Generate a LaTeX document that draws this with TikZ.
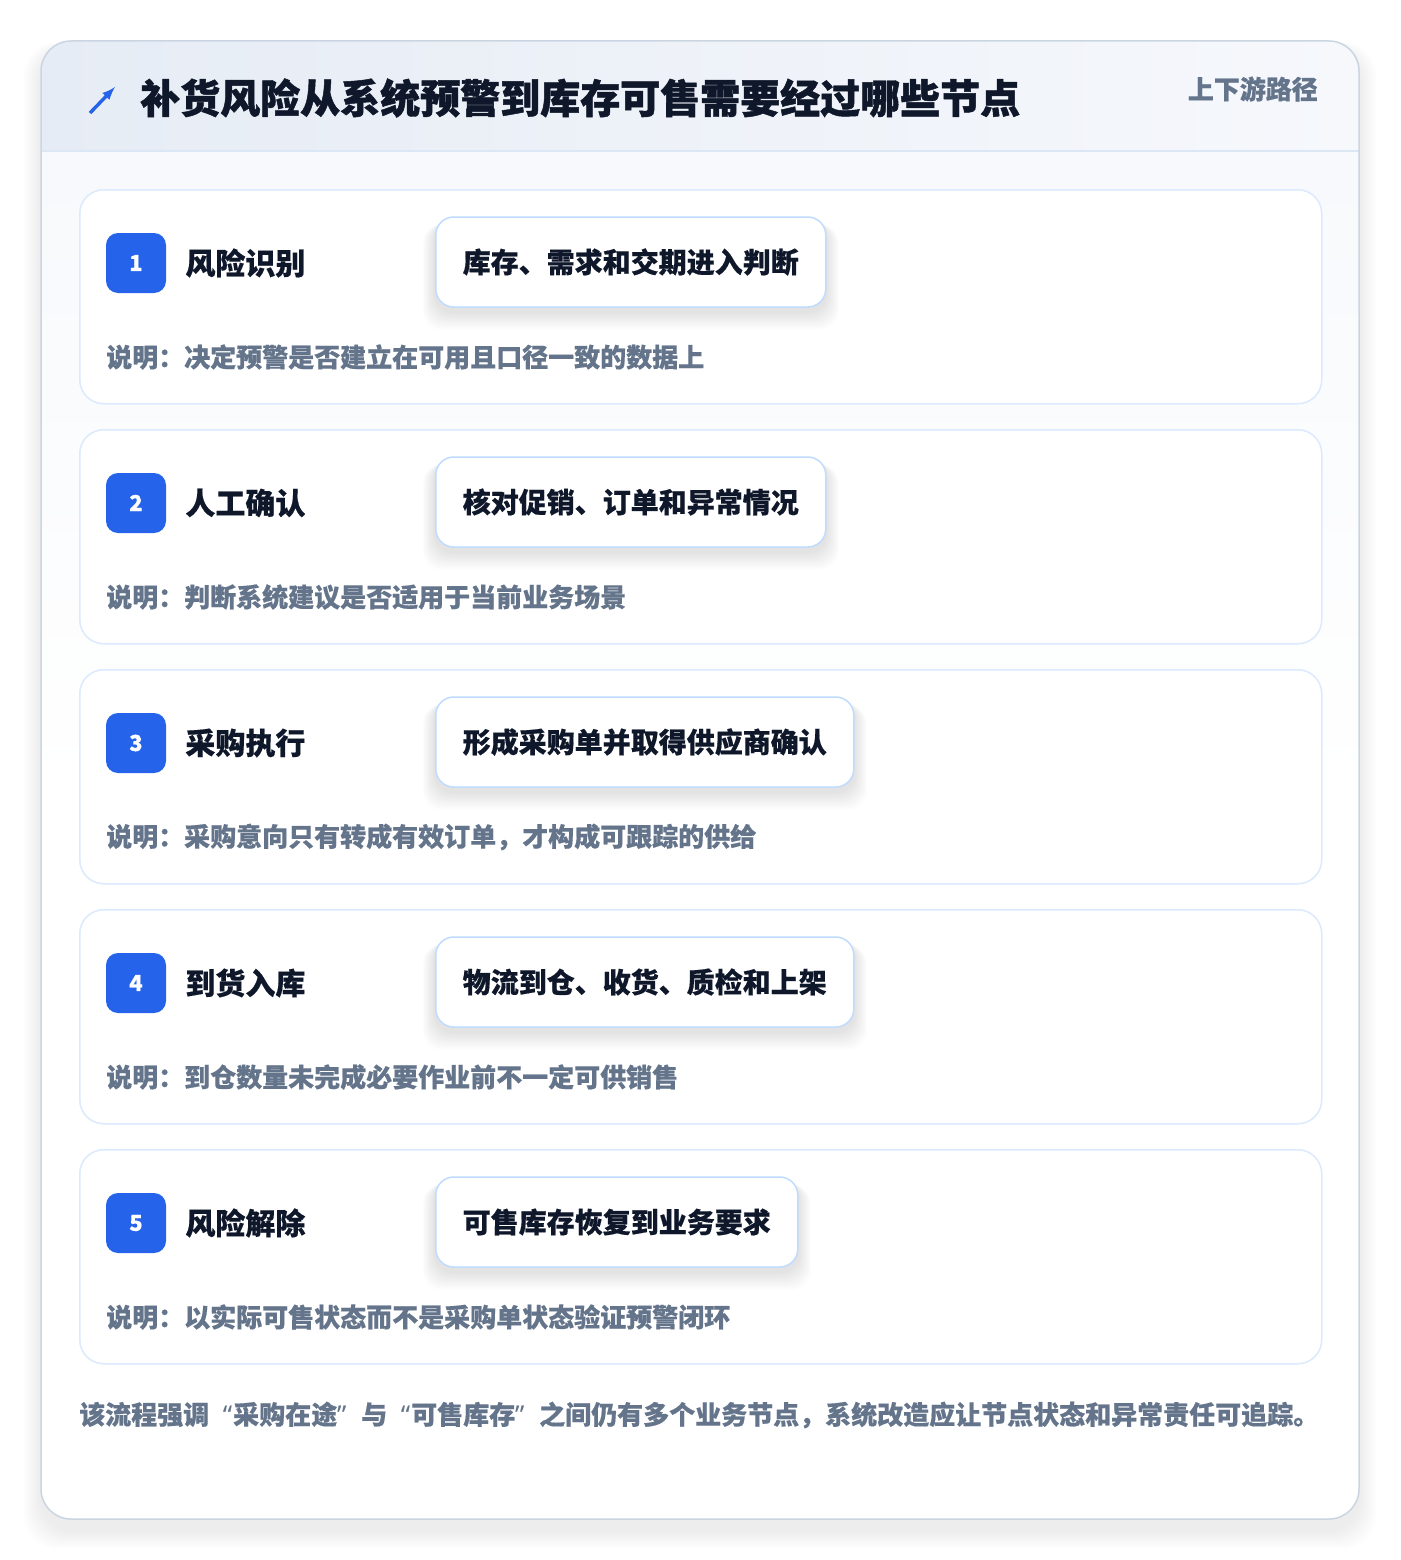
\documentclass[tikz,border=0pt]{standalone}
\usepackage{fontspec}
\setmainfont{Noto Sans CJK SC}[BoldFeatures={FakeBold=0.4}]
\newfontfamily\heavyfont{Noto Sans CJK SC}[BoldFeatures={FakeBold=1.2}]
\newfontfamily\latinfont{Noto Sans}
\usepackage{xcolor}
\usetikzlibrary{calc,positioning}

\definecolor{inkdark}{HTML}{0F172A}
\definecolor{inkgray}{HTML}{64748B}
\definecolor{cardline}{HTML}{CBD5E1}
\definecolor{stepline}{HTML}{DBEAFE}
\definecolor{actline}{HTML}{BFDBFE}
\definecolor{badgeblue}{HTML}{2563EB}
\definecolor{headleft}{HTML}{E6ECF5}
\definecolor{headright}{HTML}{F6F8FC}
\definecolor{headrule}{HTML}{DCE7F5}
\definecolor{bodytop}{HTML}{F7F9FC}

\newcommand{\openq}{\makebox[24pt][r]{\latinfont\bfseries “\kern1pt}}
\newcommand{\closeq}{\makebox[24pt][l]{\latinfont\bfseries ”}}

\pgfdeclarelayer{back}
\pgfdeclarelayer{shade}
\pgfsetlayers{back,shade,main}

\tikzset{
  stepcard/.style={draw=stepline, line width=1.5pt, fill=white, rounded corners=24pt,
    minimum width=1242pt, minimum height=214pt, anchor=north west, inner sep=0pt},
  badge/.style={fill=badgeblue, rounded corners=12pt, minimum size=60pt, inner sep=0pt,
    text=white, font=\fontsize{22}{24}\selectfont\bfseries},
  steptitle/.style={inner sep=0pt, text=inkdark, font=\fontsize{30}{32}\selectfont\bfseries},
  actbox/.style={draw=actline, line width=1.5pt, fill=white, rounded corners=18pt,
    minimum height=90pt, inner xsep=27pt, inner ysep=0pt, anchor=west, text=inkdark,
    font=\fontsize{28}{30}\selectfont\bfseries},
  actshadow/.style={fill=black, opacity=0.008, rounded corners=20pt},
  notetext/.style={inner sep=0pt, anchor=west, text=inkgray, font=\fontsize{26}{28}\selectfont\bfseries},
}

\begin{document}
\begin{tikzpicture}[x=1pt, y=-1pt]
    \useasboundingbox (0,0) rectangle (1400,1560);

    \begin{pgfonlayer}{back}
    \fill[white] (0,0) rectangle (1400,1560);
    % soft shadow of the card
    \foreach \k in {1,...,18}
        \fill[black, opacity=0.005, rounded corners=34pt] (41-\k, 49-0.4*\k) rectangle (1359+\k, 1531+\k);

    % card, header band
    \fill[white, rounded corners=30pt] (41,41) rectangle (1359,1519);
    \begin{scope}
        \clip[rounded corners=30pt] (41,41) rectangle (1359,1519);
        \shade[top color=bodytop, bottom color=white] (41,151) rectangle (1359,800);
        \shade[left color=headleft, right color=headright] (41,41) rectangle (1359,151);
    \end{scope}
    \draw[headrule, line width=1.5pt] (41,151) -- (1359,151);
    \draw[cardline, line width=1.5pt, rounded corners=30pt] (41,41) rectangle (1359,1519);
    \end{pgfonlayer}

    \draw[-latex, badgeblue, line width=3.4pt] (90,113) -- (115,87);
    \node[anchor=west, inner sep=0pt, text=inkdark, font=\fontsize{40}{44}\selectfont\heavyfont\bfseries] (title) at (140,98) {补货风险从系统预警到库存可售需要经过哪些节点};
    \node[anchor=east, inner sep=0pt, text=inkgray, font=\fontsize{26}{28}\selectfont\bfseries] (tag) at (1318,89) {上下游路径};

    % the five steps
    \foreach \name/\act/\note [count=\i] in {
        风险识别/库存、需求和交期进入判断/说明：决定预警是否建立在可用且口径一致的数据上,
        人工确认/核对促销、订单和异常情况/说明：判断系统建议是否适用于当前业务场景,
        采购执行/形成采购单并取得供应商确认/说明：采购意向只有转成有效订单，才构成可跟踪的供给,
        到货入库/物流到仓、收货、质检和上架/说明：到仓数量未完成必要作业前不一定可供销售,
        风险解除/可售库存恢复到业务要求/说明：以实际可售状态而不是采购单状态验证预警闭环}
    {
        \pgfmathsetmacro{\ytop}{189+240*(\i-1)}
        \begin{pgfonlayer}{back}
            \node[stepcard] (card\i) at (79,\ytop) {};
        \end{pgfonlayer}
        \node[badge] (badge\i) at (136,\ytop+74) {\i};
        \node[steptitle, right=19pt of badge\i] (name\i) {\name};
        \node[actbox] (act\i) at (435,\ytop+73) {\act};
        \begin{pgfonlayer}{shade}
            \foreach \k in {1,...,14}
                \fill[actshadow] ($(act\i.north west)+(-0.9*\k,4+0.3*\k)$) rectangle ($(act\i.south east)+(0.9*\k,4+1.3*\k)$);
        \end{pgfonlayer}
        \node[notetext] (note\i) at (106,\ytop+168) {\note};
    }

    \node[notetext] (footer) at (79,1415) {该流程强调\openq 采购在途\closeq 与\openq 可售库存\closeq 之间仍有多个业务节点，系统改造应让节点状态和异常责任可追踪。};
\end{tikzpicture}
\end{document}
